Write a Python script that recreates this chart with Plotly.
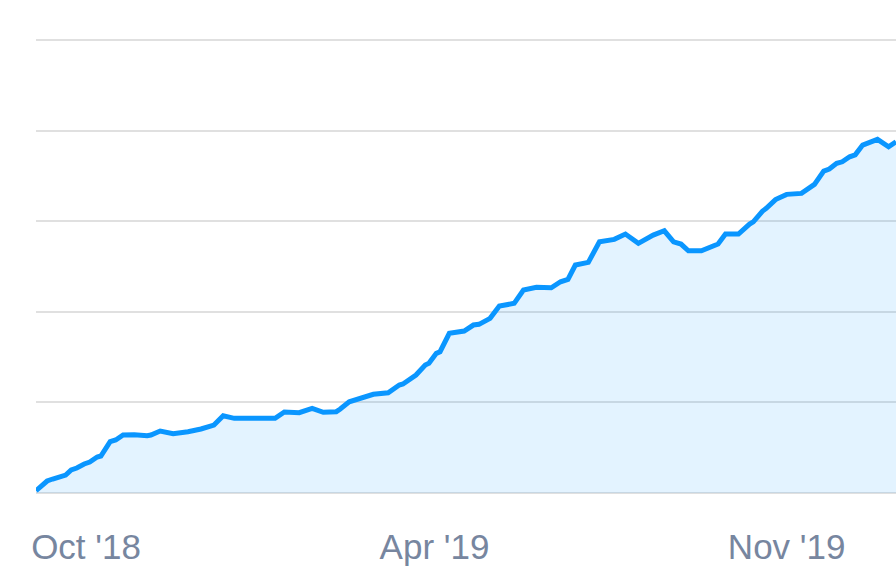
import plotly.graph_objects as go

dates = [
    "2018-09-25", "2018-10-01", "2018-10-04", "2018-10-08", "2018-10-11", "2018-10-14",
    "2018-10-17", "2018-10-21", "2018-10-24", "2018-10-28", "2018-10-30", "2018-11-04",
    "2018-11-07", "2018-11-11", "2018-11-17", "2018-11-24", "2018-11-26", "2018-12-01",
    "2018-12-08", "2018-12-16", "2018-12-23", "2018-12-30", "2019-01-04", "2019-01-10",
    "2019-02-01", "2019-02-06", "2019-02-14", "2019-02-21", "2019-02-27", "2019-03-06",
    "2019-03-08", "2019-03-13", "2019-03-19", "2019-03-26", "2019-04-03", "2019-04-09",
    "2019-04-11", "2019-04-16", "2019-04-18", "2019-04-23", "2019-04-25", "2019-04-29",
    "2019-05-01", "2019-05-06", "2019-05-14", "2019-05-19", "2019-05-22", "2019-05-27",
    "2019-05-28", "2019-06-02", "2019-06-10", "2019-06-15", "2019-06-22", "2019-06-30",
    "2019-07-05", "2019-07-09", "2019-07-13", "2019-07-20", "2019-07-26", "2019-08-03",
    "2019-08-09", "2019-08-16", "2019-08-22", "2019-08-24", "2019-08-30", "2019-09-04",
    "2019-09-08", "2019-09-12", "2019-09-19", "2019-09-25", "2019-09-28", "2019-10-02",
    "2019-10-09", "2019-10-15", "2019-10-17", "2019-10-22", "2019-10-24", "2019-10-29",
    "2019-11-04", "2019-11-12", "2019-11-16", "2019-11-19", "2019-11-24", "2019-11-27",
    "2019-12-01", "2019-12-04", "2019-12-08", "2019-12-11", "2019-12-15", "2019-12-18",
    "2019-12-23", "2019-12-29", "2020-01-02",
]

values = [
    0.5, 2.65, 3.09, 3.6, 3.97, 5.08,
    5.52, 6.4, 6.84, 7.95, 8.17, 11.32,
    11.7, 12.8, 12.87, 12.65, 12.8, 13.69,
    13.09, 13.53, 14.13, 15.01, 17.06, 16.49,
    16.49, 17.88, 17.73, 18.7, 17.81, 17.95,
    18.48, 20.15, 21.04, 21.79, 22.14, 23.84,
    24.06, 25.67, 26.05, 28.26, 28.63, 30.84,
    31.19, 35.25, 35.76, 37.09, 37.24, 38.34,
    38.56, 41.28, 41.88, 44.81, 45.41, 45.32,
    46.64, 47.17, 50.33, 50.93, 55.47, 56.0,
    57.17, 55.12, 56.58, 56.95, 57.9, 55.47,
    54.97, 53.49, 53.49, 54.59, 54.97, 57.17,
    57.17, 59.38, 59.89, 62.25, 62.85, 64.79,
    65.94, 66.16, 67.26, 68.15, 71.08, 71.52,
    72.78, 73.13, 74.24, 74.68, 76.82, 77.2,
    78.08, 76.45, 77.55,
]

tick_dates = ["2018-10-22", "2019-04-28", "2019-11-04"]
tick_labels = ["Oct '18", "Apr '19", "Nov '19"]

fig = go.Figure()
fig.add_trace(go.Scatter(
    x=dates, y=values, mode="lines",
    line=dict(color="#0a96ff", width=5, shape="linear"),
    fill="tozeroy", fillcolor="rgba(0,143,251,0.11)",
    hoverinfo="skip",
))

fig.update_layout(
    width=896, height=586,
    margin=dict(l=36, r=0, t=22, b=93),
    paper_bgcolor="white", plot_bgcolor="white",
    showlegend=False,
    font=dict(family="Liberation Sans, Arial, sans-serif"),
)
fig.update_xaxes(
    type="date",
    range=["2018-09-25", "2020-01-02"],
    tickmode="array", tickvals=tick_dates, ticktext=tick_labels,
    showgrid=False, zeroline=False, showline=False, ticks="",
    tickfont=dict(size=35, color="#77869f"),
    ticklabelstandoff=30,
)
fig.update_yaxes(
    range=[0, 104], dtick=20, tick0=0,
    showgrid=True, gridcolor="#e0e0e0", gridwidth=2,
    zeroline=True, zerolinecolor="#e0e0e0", zerolinewidth=2,
    showticklabels=False, ticks="", showline=False,
)

fig.write_html(
    "out.html",
    config={"displayModeBar": False},
    post_script="document.body.style.margin='0';document.body.style.overflow='hidden';",
)
